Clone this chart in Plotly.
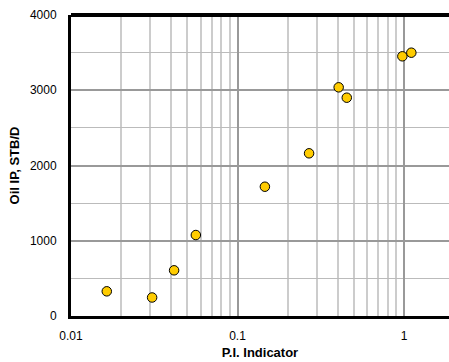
import plotly.graph_objects as go

pi_indicator = [0.0164, 0.0307, 0.0416, 0.0562, 0.146, 0.269, 0.405, 0.453, 0.977, 1.106]
oil_ip = [328, 246, 607, 1076, 1718, 2162, 3039, 2901, 3451, 3499]
x_ticks = [0.01, 0.1, 1]
x_tick_text = ["0.01", "0.1", "1"]
y_ticks = [0, 1000, 2000, 3000, 4000]

fig = go.Figure()
fig.add_trace(go.Scatter(
    x=pi_indicator, y=oil_ip, mode="markers",
    marker=dict(size=9.5, color="#FFCC00", line=dict(color="#000000", width=1)),
    showlegend=False, cliponaxis=False,
))

font = "Liberation Sans, Arial, sans-serif"
fig.update_layout(
    width=449, height=362,
    margin=dict(l=71, r=0, t=15, b=46),
    paper_bgcolor="white", plot_bgcolor="white",
    font=dict(family=font, size=12, color="#000"),
    xaxis=dict(
        type="log", range=[-2, 0.27],
        tickvals=x_ticks, ticktext=x_tick_text,
        showgrid=True, gridcolor="#999999", gridwidth=1.5,
        minor=dict(showgrid=True, dtick="D1", gridcolor="#cccccc", gridwidth=1.5),
        showline=True, linecolor="#000", linewidth=3,
        ticks="", zeroline=False, ticklabelstandoff=7,
        title=dict(text="<b>P.I. Indicator</b>", font=dict(size=13), standoff=6),
    ),
    yaxis=dict(
        range=[0, 4000], tickvals=y_ticks,
        showgrid=True, gridcolor="#999999", gridwidth=2,
        minor=dict(showgrid=True, dtick=500, gridcolor="#bbbbbb", gridwidth=1),
        showline=True, linecolor="#000", linewidth=3,
        ticks="", zeroline=False, ticklabelstandoff=9,
        title=dict(text="<b>Oil IP, STB/D</b>", font=dict(size=13), standoff=8),
    ),
    shapes=[dict(type="line", xref="paper", yref="paper", x0=0, x1=1, y0=1, y1=1,
                 line=dict(color="#000", width=4))],
)
fig.write_html("out.html")
